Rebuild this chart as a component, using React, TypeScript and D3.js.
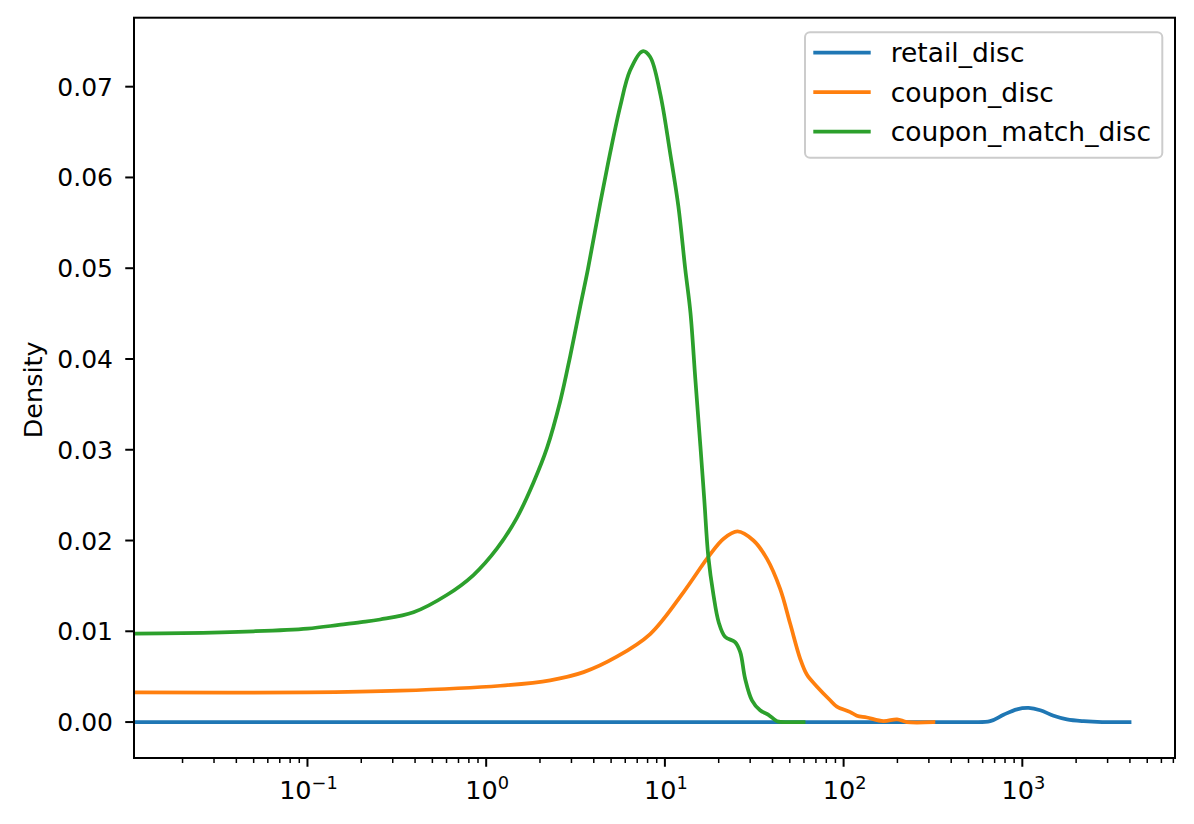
import React from "react";
import * as d3 from "d3";

const seriesNames = ["retail_disc", "coupon_disc", "coupon_match_disc"];
const seriesColors = ["#1f77b4", "#ff7f0e", "#2ca02c"];

const retailX = [0.01, 0.1, 1, 10, 100, 300, 500, 661, 785, 933, 1084, 1260, 1496, 1778, 2203, 2800, 3981];
const retailY = [0, 0, 0, 0, 0, 0, 0, 0.0001, 0.0008, 0.0014, 0.00155, 0.0013, 0.0007, 0.0003, 0.0001, 0, 0];

const couponX = [0.01, 0.1, 0.33, 1.2, 2.28, 3.51, 5.38, 8.27, 12.7, 17.5, 21.3, 25.5, 31.3, 37.2, 44.1, 50.3, 57.1, 62.4, 71, 84.1, 91.7, 109, 118.6, 135, 167, 199, 226, 318];
const couponY = [0.00326, 0.00326, 0.00345, 0.004, 0.0046, 0.0055, 0.0072, 0.0097, 0.0143, 0.0182, 0.0202, 0.021, 0.02, 0.018, 0.0147, 0.0108, 0.007, 0.0052, 0.0039, 0.0024, 0.0017, 0.0011, 0.0007, 0.0005, 0.0001, 0.0003, 0, 0];

const matchX = [0.01, 0.02, 0.05, 0.1, 0.15, 0.2, 0.255, 0.392, 0.602, 0.849, 1.148, 1.485, 1.84, 2.19, 2.6, 2.95, 3.36, 3.71, 4.35, 4.94, 5.62, 6.39, 7.5, 8.26, 9.4, 10.7, 11.9, 13.0, 13.9, 14.8, 15.8, 16.6, 17.5, 18.7, 20.0, 21.7, 24.7, 26.4, 28.1, 30.7, 34.1, 38.0, 42.4, 50, 59.7];
const matchY = [0.00975, 0.0098, 0.01, 0.0103, 0.0107, 0.011, 0.0113, 0.0121, 0.014, 0.0162, 0.0191, 0.0225, 0.0264, 0.0302, 0.0354, 0.0403, 0.0458, 0.0499, 0.0572, 0.0627, 0.0678, 0.0718, 0.0739, 0.0733, 0.0693, 0.0627, 0.0568, 0.0499, 0.0451, 0.0378, 0.0304, 0.0246, 0.0182, 0.014, 0.011, 0.0094, 0.0088, 0.0077, 0.0048, 0.0024, 0.0013, 0.0008, 0.0001, 0, 0];

const yTicks = [0, 0.01, 0.02, 0.03, 0.04, 0.05, 0.06, 0.07];
const xMajorExps = [-1, 0, 1, 2, 3];

const W = 1194;
const H = 824;
const L = 134, R = 1175, T = 17.7, B = 758;
const FONT = "DejaVu Sans, Liberation Sans, sans-serif";

export default function App() {
  const x = d3.scaleLog().domain([0.0107, 7150]).range([L, R]);
  const y = d3.scaleLinear().domain([-0.00396, 0.0776]).range([B, T]);

  const series = [
    { xs: retailX, ys: retailY },
    { xs: couponX, ys: couponY },
    { xs: matchX, ys: matchY },
  ];
  const line = d3
    .line<[number, number]>()
    .x((d) => x(d[0]))
    .y((d) => y(d[1]))
    .curve(d3.curveCatmullRom.alpha(0.5));

  const minorTicks: number[] = [];
  for (let e = -2; e <= 3; e++) {
    for (let k = 2; k <= 9; k++) {
      const v = k * Math.pow(10, e);
      if (v >= x.domain()[0] && v <= x.domain()[1]) minorTicks.push(v);
    }
  }

  return (
    <svg width={W} height={H} style={{ position: "absolute", left: 0, top: 0, background: "#fff" }} fontFamily={FONT}>
      <defs>
        <clipPath id="plotclip">
          <rect x={L} y={T} width={R - L} height={B - T} />
        </clipPath>
      </defs>
      <rect x={0} y={0} width={W} height={H} fill="#fff" />
      <g clipPath="url(#plotclip)">
        {series.map((s, i) => (
          <path
            key={i}
            d={line(s.xs.map((v, j) => [v, s.ys[j]] as [number, number])) || ""}
            fill="none"
            stroke={seriesColors[i]}
            strokeWidth={3.75}
            strokeLinejoin="round"
            strokeLinecap="square"
          />
        ))}
      </g>
      <rect x={L} y={T} width={R - L} height={B - T} fill="none" stroke="#000" strokeWidth={2} />
      {yTicks.map((t) => (
        <g key={t}>
          <line x1={L - 8.75} x2={L} y1={y(t)} y2={y(t)} stroke="#000" strokeWidth={2} />
          <text x={113} y={y(t)} dy="0.36em" textAnchor="end" fontSize={25} fill="#000">
            {t.toFixed(2)}
          </text>
        </g>
      ))}
      {minorTicks.map((t) => (
        <line key={t} x1={x(t)} x2={x(t)} y1={B} y2={B + 5} stroke="#000" strokeWidth={1.5} />
      ))}
      {xMajorExps.map((e) => {
        const px = x(Math.pow(10, e));
        return (
          <g key={e}>
            <line x1={px} x2={px} y1={B} y2={B + 8.75} stroke="#000" strokeWidth={2} />
            <text x={px + 1} y={799} textAnchor="middle" fontSize={25.5} fill="#000">
              <tspan>10</tspan>
              <tspan fontSize={17.8} dy={-10}>{e < 0 ? "\u2212" + Math.abs(e) : String(e)}</tspan>
            </text>
          </g>
        );
      })}
      <text
        transform={`translate(42, ${(T + B) / 2 + 2}) rotate(-90)`}
        textAnchor="middle"
        fontSize={25.5}
        fill="#000"
      >
        Density
      </text>
      <rect x={805} y={32.3} width={357.3} height={125.4} rx={5} fill="#fff" fillOpacity={0.8} stroke="#cccccc" strokeWidth={2} />
      {seriesNames.map((n, i) => {
        const ly = 52.7 + i * 39.5;
        return (
          <g key={n}>
            <line x1={813.3} x2={870.7} y1={ly} y2={ly} stroke={seriesColors[i]} strokeWidth={3.75} />
            <text x={890.7} y={ly} dy="0.36em" fontSize={26.5} fill="#000">
              {n}
            </text>
          </g>
        );
      })}
    </svg>
  );
}
